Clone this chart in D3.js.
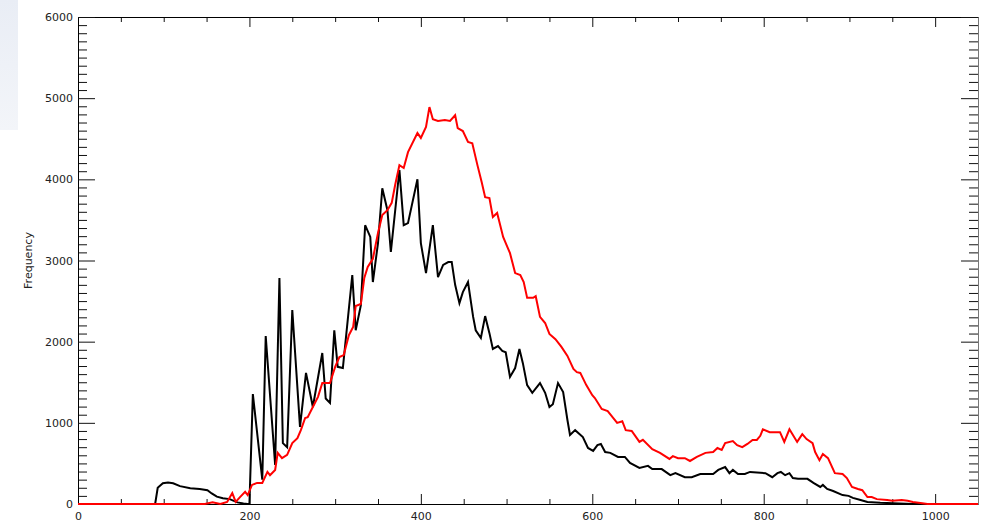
<!DOCTYPE html>
<html>
<head>
<meta charset="utf-8">
<script src="https://cdn.jsdelivr.net/npm/d3@7"></script>
<style>
  body { margin: 0; background: #fff; }
  svg { display: block; }
</style>
</head>
<body>
<svg id="chart"></svg>
<script>
// black histogram (x = bin value, y = frequency)
var blackX = [0, 90, 93, 99, 105, 111, 119, 131, 142, 151, 156, 162, 169, 177, 186, 193, 198,
    200, 204, 215, 219, 230, 235, 239, 244, 250, 259, 266, 274, 285, 289, 294, 299, 303, 309,
    320, 324, 330, 335, 341, 344, 350, 355, 361, 365, 375, 380, 385, 396, 400, 406, 414, 420,
    426, 432, 436, 440, 445, 449, 455, 461, 464, 470, 475, 480, 484, 490, 495, 499, 504, 510,
    515, 519, 524, 530, 539, 545, 550, 554, 560, 566, 571, 574, 580, 589, 595, 601, 606, 610,
    615, 621, 630, 638, 644, 655, 665, 670, 681, 691, 697, 708, 716, 726, 741, 747, 755, 760,
    764, 770, 778, 784, 802, 810, 816, 820, 825, 830, 834, 840, 851, 858, 866, 869, 874, 881,
    892, 899, 904, 913, 921, 936, 951, 974, 1050];
var blackY = [0, 0, 200, 255, 265, 255, 220, 195, 185, 170, 130, 90, 70, 60, 20, 5, 0,
    0, 1355, 300, 2070, 480, 2785, 750, 700, 2390, 950, 1615, 1195, 1860, 1300, 1245, 2140, 1690, 1675,
    2820, 2140, 2450, 3435, 3290, 2735, 3215, 3890, 3620, 3105, 4115, 3435, 3460, 4000, 3215, 2845, 3435, 2795,
    2945, 2980, 2980, 2700, 2475, 2610, 2735, 2305, 2140, 2045, 2315, 2105, 1910, 1945, 1885, 1870, 1565, 1675,
    1910, 1735, 1465, 1370, 1490, 1370, 1195, 1230, 1490, 1380, 1035, 850, 910, 825, 690, 655, 725, 740,
    640, 630, 580, 580, 505, 445, 470, 430, 430, 355, 380, 330, 330, 370, 370, 420, 455, 380,
    420, 370, 370, 395, 380, 330, 380, 395, 355, 380, 320, 310, 310, 260, 210, 235, 185, 160,
    110, 100, 75, 50, 25, 15, 10, 0, 0];

// red histogram
var redX = [0, 148, 157, 166, 174, 180, 184, 189, 195, 198, 203, 209, 215, 221, 224, 230, 233,
    238, 244, 250, 256, 260, 265, 268, 274, 280, 285, 294, 300, 305, 310, 316, 321, 324, 330,
    334, 338, 344, 350, 355, 361, 366, 370, 375, 380, 385, 396, 400, 406, 410, 414, 420, 428,
    434, 440, 443, 449, 455, 460, 466, 471, 475, 480, 484, 489, 496, 501, 504, 510, 516, 520,
    524, 531, 534, 539, 545, 550, 557, 564, 571, 578, 582, 586, 593, 600, 603, 611, 618, 629,
    635, 639, 646, 655, 659, 670, 679, 690, 694, 700, 708, 714, 722, 732, 741, 746, 751, 755,
    764, 769, 775, 781, 787, 792, 796, 799, 807, 819, 824, 830, 839, 845, 850, 857, 860, 865,
    869, 875, 883, 892, 897, 903, 910, 915, 921, 926, 932, 944, 950, 961, 968, 974, 985, 991, 1050];
var redY = [0, 0, 20, 0, 25, 135, 25, 85, 150, 110, 235, 260, 260, 395, 355, 420, 630,
    565, 605, 750, 810, 910, 1060, 1070, 1195, 1320, 1490, 1490, 1690, 1810, 1835, 2080, 2180, 2440, 2465,
    2785, 2920, 3020, 3340, 3560, 3620, 3710, 3930, 4175, 4140, 4335, 4570, 4510, 4645, 4890, 4740, 4720, 4730,
    4720, 4790, 4630, 4595, 4460, 4445, 4175, 3965, 3780, 3770, 3535, 3585, 3290, 3165, 3090, 2845, 2820, 2735,
    2540, 2540, 2560, 2305, 2230, 2095, 2030, 1935, 1825, 1665, 1625, 1615, 1465, 1340, 1305, 1170, 1145, 1000,
    1020, 910, 900, 765, 790, 675, 630, 555, 590, 565, 565, 530, 580, 630, 640, 690, 665, 750,
    775, 725, 700, 740, 790, 790, 840, 920, 885, 885, 765, 920, 765, 860, 800, 750, 640, 540,
    615, 565, 380, 370, 320, 210, 185, 170, 85, 85, 60, 50, 40, 50, 40, 25, 10, 0, 0];

var xMajor = [0, 200, 400, 600, 800, 1000];
var yMajor = [0, 1000, 2000, 3000, 4000, 5000, 6000];
var yTitle = "Frequency";

var dimensions = {
    width: 989,
    height: 525,
    margin: { top: 17, right: 11, bottom: 21, left: 78 }
};

var svg = d3.select("#chart")
    .attr("width", dimensions.width)
    .attr("height", dimensions.height);

// faint panel left over at the top-left corner
var grad = svg.append("defs").append("linearGradient")
    .attr("id", "corner").attr("x1", 0).attr("y1", 0).attr("x2", 0).attr("y2", 1);
grad.append("stop").attr("offset", "0%").attr("stop-color", "#e9edf5");
grad.append("stop").attr("offset", "100%").attr("stop-color", "#f3f5f9");
svg.append("rect").attr("x", 0).attr("y", 0).attr("width", 18).attr("height", 130)
    .attr("fill", "url(#corner)");

var x0 = dimensions.margin.left;
var x1 = dimensions.width - dimensions.margin.right;
var y0 = dimensions.height - dimensions.margin.bottom;
var y1 = dimensions.margin.top;

var xScale = d3.scaleLinear().domain([0, 1050]).range([x0, x1]);
var yScale = d3.scaleLinear().domain([0, 6000]).range([y0, y1]);

var xMinor = d3.range(0, 1051, 50).filter(function (v) { return v % 200 !== 0; });
var yMinor = d3.range(0, 6001, 100).filter(function (v) { return v % 1000 !== 0; });

function styleAxis(g, color) {
    g.selectAll(".domain").attr("stroke", color || "#000");
    g.selectAll(".tick line").attr("stroke", "#111");
    g.selectAll("text")
        .attr("fill", "#222")
        .style("font-family", "'DejaVu Sans', sans-serif")
        .style("font-size", "11px");
}

// bottom axis
svg.append("g").attr("transform", `translate(0,${y0})`)
    .call(d3.axisBottom(xScale).tickValues(xMinor).tickFormat("").tickSizeInner(-5).tickSizeOuter(0))
    .call(styleAxis);
svg.append("g").attr("transform", `translate(0,${y0})`)
    .call(d3.axisBottom(xScale).tickValues(xMajor).tickFormat(d3.format("d"))
        .tickSizeInner(-10).tickSizeOuter(0).tickPadding(8))
    .call(styleAxis);

// top axis
svg.append("g").attr("transform", `translate(0,${y1})`)
    .call(d3.axisTop(xScale).tickValues(xMinor).tickFormat("").tickSizeInner(-5).tickSizeOuter(0))
    .call(styleAxis);
svg.append("g").attr("transform", `translate(0,${y1})`)
    .call(d3.axisTop(xScale).tickValues(xMajor).tickFormat("").tickSizeInner(-10).tickSizeOuter(0))
    .call(styleAxis);

// left axis
svg.append("g").attr("transform", `translate(${x0},0)`)
    .call(d3.axisLeft(yScale).tickValues(yMinor).tickFormat("").tickSizeInner(-9).tickSizeOuter(0))
    .call(styleAxis);
svg.append("g").attr("transform", `translate(${x0},0)`)
    .call(d3.axisLeft(yScale).tickValues(yMajor).tickFormat(d3.format("d"))
        .tickSizeInner(-17).tickSizeOuter(0).tickPadding(5))
    .call(styleAxis);

// right axis
svg.append("g").attr("transform", `translate(${x1},0)`)
    .call(d3.axisRight(yScale).tickValues(yMinor).tickFormat("").tickSizeInner(-9).tickSizeOuter(0))
    .call(styleAxis, "#777");
svg.append("g").attr("transform", `translate(${x1},0)`)
    .call(d3.axisRight(yScale).tickValues(yMajor).tickFormat("").tickSizeInner(-17).tickSizeOuter(0))
    .call(styleAxis, "#777");

svg.append("text")
    .attr("transform", `translate(32,${(y0 + y1) / 2}) rotate(-90)`)
    .attr("text-anchor", "middle")
    .style("font-family", "'DejaVu Sans', sans-serif")
    .style("font-size", "11px")
    .attr("fill", "#222")
    .text(yTitle);

var line = d3.line()
    .x(function (d) { return xScale(d[0]); })
    .y(function (d) { return yScale(d[1]); });

var blackData = d3.zip(blackX, blackY);
var redData = d3.zip(redX, redY);

svg.append("path")
    .datum(blackData)
    .attr("d", line)
    .attr("fill", "none")
    .attr("stroke", "#000")
    .attr("stroke-width", 2)
    .attr("stroke-linejoin", "miter");

svg.append("path")
    .datum(redData)
    .attr("d", line)
    .attr("fill", "none")
    .attr("stroke", "#ff0000")
    .attr("stroke-width", 2)
    .attr("stroke-linejoin", "miter");
</script>
</body>
</html>
